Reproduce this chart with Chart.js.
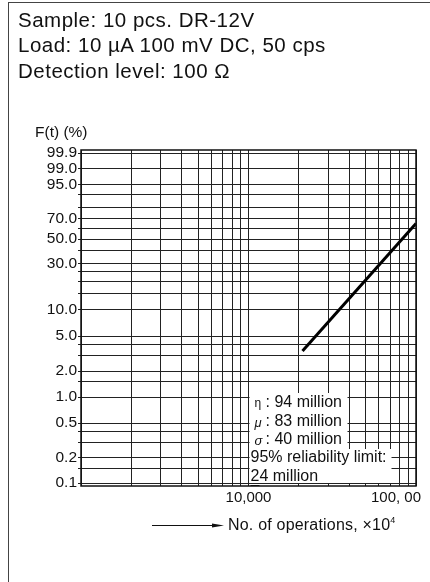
<!DOCTYPE html>
<html>
<head>
<meta charset="utf-8">
<script src="https://cdn.jsdelivr.net/npm/chart.js@4.4.1/dist/chart.umd.min.js"></script>
<style>
  html, body { margin: 0; padding: 0; background: #fff; }
  body { width: 430px; height: 582px; position: relative; overflow: hidden;
         font-family: "Liberation Sans", Arial, sans-serif; color: #111; }
  #frame { position: absolute; left: 8px; top: 2px; right: -2px; bottom: -2px;
           border-left: 1px solid #444; border-top: 1px solid #444; }
  .head { position: absolute; left: 18px; font-size: 20.5px; letter-spacing: 0.5px; line-height: 1; white-space: nowrap; }
  #ylab { position: absolute; left: 35px; top: 124px; font-size: 15.5px; line-height: 1; }
  #xlab { position: absolute; left: 228px; top: 517px; font-size: 16px; letter-spacing: 0.2px; line-height: 1; white-space: nowrap; }
  #xlab sup { font-size: 9px; vertical-align: 7px; line-height: 0; }
  canvas { position: absolute; left: 0; top: 0; }
</style>
</head>
<body>
<canvas id="chart" width="430" height="582"></canvas>
<div id="frame"></div>
<div class="head" style="top:10px">Sample: 10 pcs. DR-12V</div>
<div class="head" style="top:35px">Load: 10 µA 100 mV DC, 50 cps</div>
<div class="head" style="top:61px">Detection level: 100 Ω</div>
<div id="ylab">F(t) (%)</div>
<div id="xlab">No. of operations, ×10<sup>4</sup></div>
<script>
// ---- data ----
const lineOps = [21000, 100000];        // no. of operations (x 10^4 axis units)
const linePercent = [3.4, 65];          // cumulative failure F(t) %

const yGridPercent = [0.1, 0.15, 0.2, 0.3, 0.4, 0.5, 1, 1.5, 2, 3, 4, 5, 10, 15, 20, 25, 30, 40, 50, 60, 70, 80, 90, 95, 99, 99.9];
const yLabelPercent = [0.1, 0.2, 0.5, 1, 2, 5, 10, 30, 50, 70, 95, 99, 99.9];
const xDecades = [1000, 10000];
const xLabelValues = [10000, 100000];
const xLabelTexts = ["10,000", "100, 00"];

const noteLines = [
  { sym: "η", text: ": 94 million" },
  { sym: "μ", text: ": 83 million" },
  { sym: "σ", text: ": 40 million" },
  { sym: "", text: "95% reliability limit:" },
  { sym: "", text: "24 million" }
];

// Weibull probability paper: ln(ln(1/(1-F)))
function weibull(p) {
  return Math.log(-Math.log(1 - p / 100));
}

const xGrid = [];
xDecades.forEach(function (d) {
  for (let m = 1; m < 10; m++) xGrid.push(d * m);
});
xGrid.push(100000);

const FONT = '"Liberation Sans", Arial, sans-serif';

const paperPlugin = {
  id: "paper",
  afterDatasetsDraw(chart) {
    const ctx = chart.ctx;
    const area = chart.chartArea;
    const xs = chart.scales.x;
    ctx.save();

    // note box over the grid
    const left = xs.getPixelForValue(10000) + 1;
    const bottom = area.bottom - 3;
    ctx.fillStyle = "#fff";
    ctx.fillRect(left, bottom - 90, 98, 56);
    ctx.fillRect(left, bottom - 34, 142, 34);

    ctx.fillStyle = "#111";
    ctx.textBaseline = "middle";
    const rowY = [-80, -61, -43, -25, -6];
    noteLines.forEach(function (ln, i) {
      const y = bottom + rowY[i];
      if (ln.sym) {
        ctx.font = (ln.sym === "η" ? "12px " : "italic 13px ") + FONT;
        ctx.fillText(ln.sym, left + 5, y + 1);
        ctx.font = "16px " + FONT;
        ctx.fillText(ln.text, left + 16, y);
      } else {
        ctx.font = "16px " + FONT;
        ctx.fillText(ln.text, left + 1, y);
      }
    });
    // underline under the "2"
    ctx.fillRect(left + 1, bottom + 2, 9, 1);

    // full plot border
    ctx.strokeStyle = "#111";
    ctx.lineWidth = 1.5;
    ctx.strokeRect(area.left, area.top, area.right - area.left, area.bottom - area.top);

    // x tick labels
    ctx.font = "15px " + FONT;
    ctx.textBaseline = "middle";
    xLabelValues.forEach(function (v, i) {
      const last = i === xLabelValues.length - 1;
      const px = xs.getPixelForValue(v);
      ctx.textAlign = last ? "right" : "center";
      ctx.fillText(xLabelTexts[i], last ? px + 5 : px, area.bottom + 12);
    });

    // arrow in front of the axis title
    ctx.strokeStyle = "#111";
    ctx.lineWidth = 1;
    ctx.beginPath();
    ctx.moveTo(152, 525.5);
    ctx.lineTo(218, 525.5);
    ctx.stroke();
    ctx.beginPath();
    ctx.moveTo(224, 525.5);
    ctx.lineTo(212, 523.5);
    ctx.lineTo(212, 527.5);
    ctx.closePath();
    ctx.fill();
    ctx.restore();
  }
};

const ctx = document.getElementById("chart").getContext("2d");
new Chart(ctx, {
  type: "line",
  data: {
    datasets: [
      {
        data: lineOps.map(function (x, i) {
          return { x: x, y: weibull(linePercent[i]) };
        }),
        borderColor: "#000",
        borderWidth: 3,
        pointRadius: 0,
        fill: false,
      },
    ],
  },
  options: {
    responsive: false,
    devicePixelRatio: 1,
    animation: false,
    layout: {
      padding: { left: 0, top: 150, right: 14, bottom: 0 },
    },
    plugins: {
      legend: { display: false },
      tooltip: { enabled: false },
    },
    scales: {
      x: {
        type: "logarithmic",
        min: 1000,
        max: 100000,
        afterBuildTicks: function (scale) {
          scale.ticks = xGrid.map(function (v) {
            return { value: v };
          });
        },
        afterFit: function (scale) {
          scale.height = 96;
          scale.paddingLeft = 0;
          scale.paddingRight = 0;
        },
        ticks: { display: false, autoSkip: false },
        grid: { color: "#222", lineWidth: 1, drawTicks: false },
        border: { display: false },
      },
      y: {
        type: "linear",
        min: weibull(0.1) - 0.075,
        max: weibull(99.9) + 0.085,
        afterBuildTicks: function (scale) {
          scale.ticks = yGridPercent.map(function (p) {
            return { value: weibull(p) };
          });
        },
        afterFit: function (scale) {
          scale.width = 81;
          scale.paddingTop = 0;
          scale.paddingBottom = 0;
        },
        ticks: {
          autoSkip: false,
          padding: 1,
          color: "#111",
          font: { family: FONT, size: 15.5 },
          callback: function (value, index) {
            const p = yGridPercent[index];
            return yLabelPercent.indexOf(p) >= 0 ? p.toFixed(1) : "";
          },
        },
        grid: { color: "#222", lineWidth: 1, tickLength: 3 },
        border: { display: false },
      },
    },
  },
  plugins: [paperPlugin],
});
</script>
</body>
</html>
